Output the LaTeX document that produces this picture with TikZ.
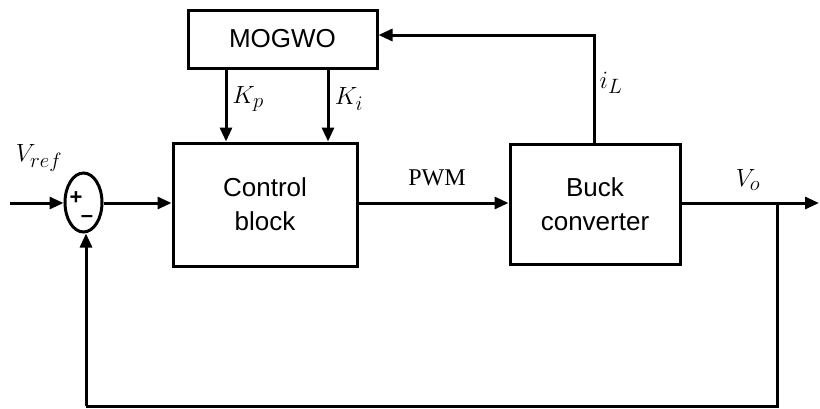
\documentclass[tikz,border=0pt]{standalone}
\usepackage{fontspec}
\setsansfont{Liberation Sans}
\newfontfamily\timesfont{Liberation Serif}
\usetikzlibrary{arrows.meta,shapes.geometric}
\begin{document}
\begin{tikzpicture}[x=1pt,y=-1pt,
  blk/.style={draw,line width=3pt,rectangle,inner sep=0pt,align=center,font=\sffamily\fontsize{26}{34}\selectfont},
  conn/.style={line width=3pt,-{Triangle[length=14pt,width=12pt]}},
  wire/.style={line width=3pt},
  lbl/.style={inner sep=0pt,font=\fontsize{28}{32}\selectfont},
  sgn/.style={inner sep=0pt,font=\sffamily\bfseries\fontsize{22}{24}\selectfont}]
\useasboundingbox (0,0) rectangle (820,408);
\node[blk,minimum width=189pt,minimum height=58pt] (mog) at (282.5,39) {MOGWO};
\node[blk,minimum width=184pt,minimum height=123pt] (ctl) at (265,204.5) {Control\\block};
\node[blk,minimum width=170pt,minimum height=120pt] (buck) at (595,204) {Buck\\converter};
\node[draw,line width=3pt,ellipse,minimum width=37pt,minimum height=59pt,inner sep=0pt] (sum) at (83.5,202.5) {};
\node[sgn] (plus) at (76,198) {+};
\node[sgn] (minus) at (87,219) {–};
\coordinate (in) at (10,203);
\coordinate (out) at (819,203);
\coordinate (br) at (777,203);
\coordinate (bot) at (777,406);
\coordinate (botl) at (86,406);
\coordinate (ilt) at (594,35);
\draw[conn] (in) -- (sum.west |- in);
\draw[conn] (sum.east |- in) -- (ctl.west |- in);
\draw[conn] (ctl.east |- in) -- (buck.west |- in);
\draw[conn] (buck.east |- in) -- (out);
\draw[wire] (br) -- (bot) -- (botl);
\draw[conn] (botl) -- (sum.south -| botl);
\draw[conn] (buck.north -| ilt) -- (ilt) -- (mog.east |- ilt);
\draw[conn] (mog.south -| 226,0) -- (ctl.north -| 226,0);
\draw[conn] (mog.south -| 328,0) -- (ctl.north -| 328,0);
\node[lbl] (vref) at (39,158) {$V_{ref}$};
\node[lbl] (kp) at (248,99) {$K_p$};
\node[lbl] (ki) at (349,99) {$K_i$};
\node[lbl] (il) at (611,83) {$i_L$};
\node[lbl] (vo) at (748,180) {$V_o$};
\node[lbl,font=\timesfont\fontsize{24}{28}\selectfont] (pwm) at (437,178) {PWM};
\end{tikzpicture}
\end{document}
